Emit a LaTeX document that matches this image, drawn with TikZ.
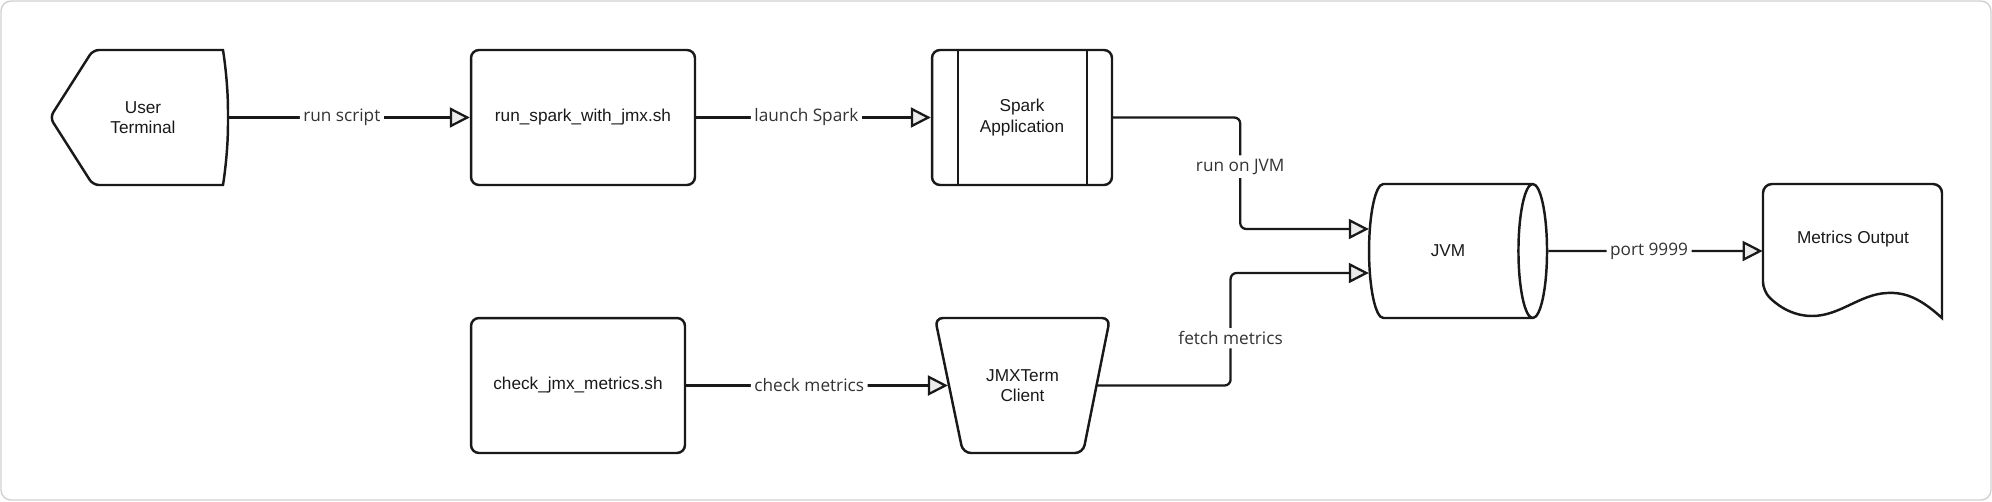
\documentclass[tikz,border=0pt]{standalone}
\usepackage{fontspec}
\setmainfont{Liberation Sans}
\newfontfamily\edgefont{Open Sans}
\usetikzlibrary{shapes.geometric, arrows.meta, calc}

\begin{document}
\begin{tikzpicture}[x=0.02cm, y=-0.02cm,
    box/.style={draw=black!90, line width=1.4pt, rounded corners=0.16cm, align=center, inner sep=2pt, text=black!90, font=\fontsize{9.8}{11.5}\selectfont},
    zone/.style={align=center, inner sep=0pt, text=black!90, font=\fontsize{9.8}{11.5}\selectfont},
    shapeline/.style={draw=black!90, line width=1.4pt},
    conn/.style={draw=black!90, line width=1.3pt, rounded corners=0.12cm, -{Triangle[length=0.4cm, width=0.4cm, fill=black!8]}},
    lbl/.style={fill=white, inner sep=2pt, text=black!80, font=\edgefont\fontsize{9.8}{11.5}\selectfont}]

    % Frame
    \useasboundingbox (0,0) rectangle (1992,501);
    \draw[black!18, line width=0.8pt, rounded corners=0.2cm] (1,1) rectangle (1991,500);

    % User Terminal (display shape)
    \draw[shapeline, rounded corners=0.12cm] (217,50) .. controls (223,50) and (228,80) .. (228,117.5) .. controls (228,155) and (223,185) .. (217,185) -- (93,185) -- (50,117.5) -- (93,50) -- cycle;
    \node[zone, minimum width=3.4cm, minimum height=2.7cm] (terminal) at (143,117.5) {User\\Terminal};

    % Scripts
    \node[box, minimum width=4.48cm, minimum height=2.7cm] (runspark) at (583,117.5) {run\_spark\_with\_jmx.sh};
    \node[box, minimum width=4.28cm, minimum height=2.7cm] (checkjmx) at (578,385.5) {check\_jmx\_metrics.sh};

    % Spark Application (process with side bars)
    \node[box, minimum width=3.6cm, minimum height=2.7cm] (spark) at (1022,117.5) {Spark\\Application};
    \draw[shapeline] (958,50) -- (958,185);
    \draw[shapeline] (1087,50) -- (1087,185);

    % JMXTerm Client (trapezoid)
    \draw[shapeline, rounded corners=0.16cm] (935,318) -- (1110,318) -- (1083,453) -- (963,453) -- cycle;
    \node[zone, minimum width=2.97cm, minimum height=2.7cm] (jmxterm) at (1022.5,385.5) {JMXTerm\\Client};

    % JVM
    \node[box, sharp corners, cylinder, aspect=1.5, minimum width=2.68cm, minimum height=3.56cm] (jvm) at (1448,251) {JVM};

    % Metrics Output (document)
    \draw[shapeline] (1942,318) [rounded corners=0.18cm] -- (1942,184) -- (1763,184) -- (1763,291) [sharp corners] .. controls (1775,303) and (1790,316) .. (1812,316) .. controls (1840,316) and (1860,294) .. (1887,293) .. controls (1905,292) and (1920,298) .. (1942,318) -- cycle;
    \node[zone, minimum width=3.58cm, minimum height=2.68cm] (metrics) at (1852.5,251) {};
    \node[zone] (metricstext) at (1853,239) {Metrics Output};

    % Connectors
    \coordinate (jvmin1) at ($(jvm.west)+(1,-22)$);
    \coordinate (jvmin2) at ($(jvm.west)+(1,22)$);
    \draw[conn] (terminal.east) -- node[lbl, pos=0.47] {run script} (runspark.west);
    \draw[conn] (runspark.east) -- node[lbl, pos=0.47] {launch Spark} (spark.west);
    \draw[conn] (spark.east) -- ++(127,0) |- node[lbl, pos=0.22] {run on JVM} (jvmin1);
    \draw[conn] (checkjmx.east) -- node[lbl, pos=0.47] {check metrics} (jmxterm.west);
    \draw[conn] (jmxterm.east) -- ++(133.5,0) |- node[lbl, pos=0.21] {fetch metrics} (jvmin2);
    \draw[conn] (jvm.east) -- node[lbl, pos=0.47] {port 9999} (metrics.west);

\end{tikzpicture}
\end{document}
